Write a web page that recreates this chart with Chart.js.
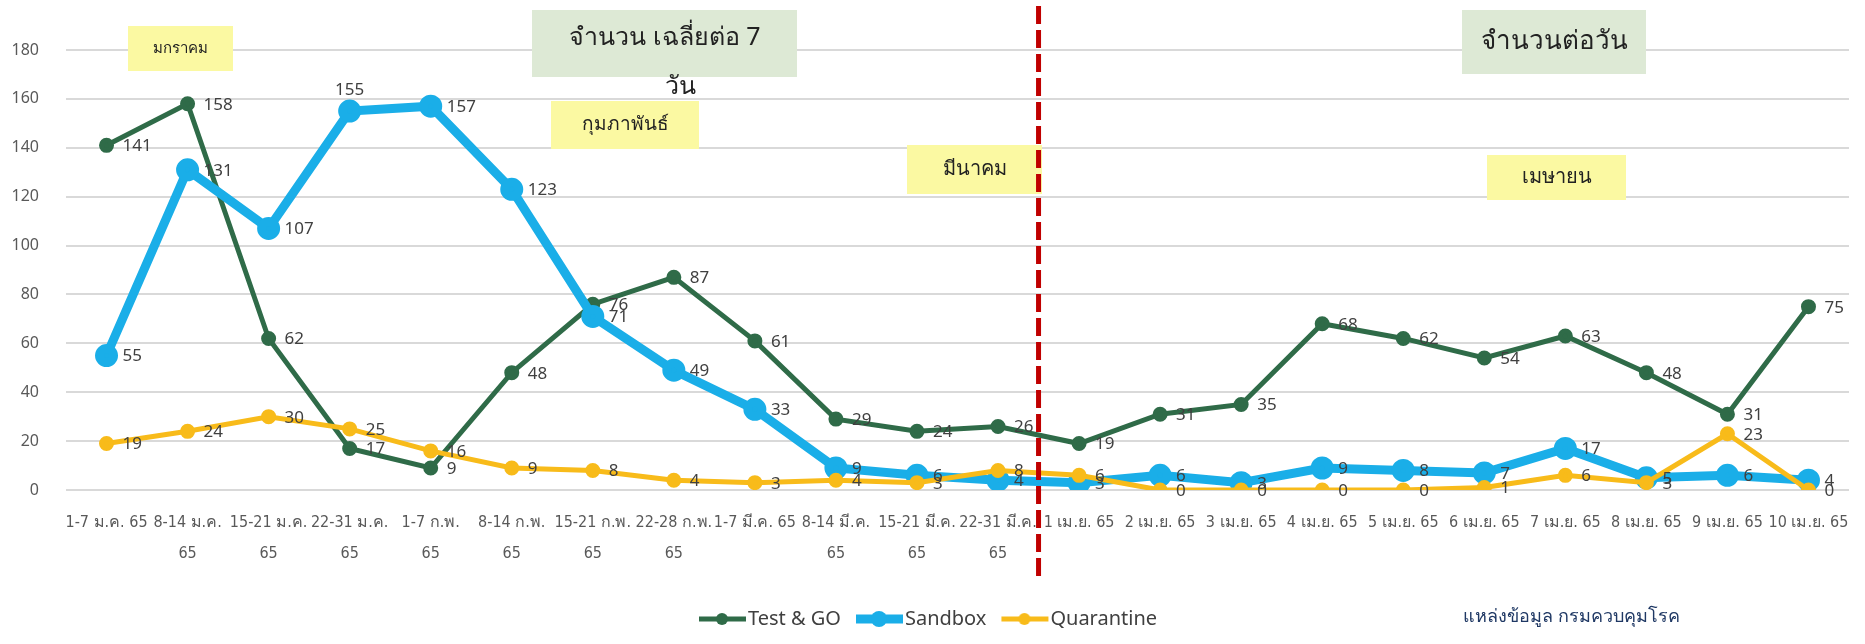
<!DOCTYPE html>
<html>
<head>
<meta charset="utf-8">
<script src="https://cdn.jsdelivr.net/npm/chart.js@4/dist/chart.umd.min.js"></script>
<style>
  html, body { margin: 0; padding: 0; background: #fff; }
  #wrap { width: 1865px; height: 644px; }
</style>
</head>
<body>
<div id="wrap"><canvas id="myChart"></canvas></div>
<script>
const categories = [
  "1-7 ม.ค. 65", ["8-14 ม.ค.", "65"], ["15-21 ม.ค.", "65"], ["22-31 ม.ค.", "65"],
  ["1-7 ก.พ.", "65"], ["8-14 ก.พ.", "65"], ["15-21 ก.พ.", "65"], ["22-28 ก.พ.", "65"],
  "1-7 มี.ค. 65", ["8-14 มี.ค.", "65"], ["15-21 มี.ค.", "65"], ["22-31 มี.ค.", "65"],
  "1 เม.ย. 65", "2 เม.ย. 65", "3 เม.ย. 65", "4 เม.ย. 65", "5 เม.ย. 65",
  "6 เม.ย. 65", "7 เม.ย. 65", "8 เม.ย. 65", "9 เม.ย. 65", "10 เม.ย. 65"
];
const testAndGo = [141, 158, 62, 17, 9, 48, 76, 87, 61, 29, 24, 26, 19, 31, 35, 68, 62, 54, 63, 48, 31, 75];
const sandbox = [55, 131, 107, 155, 157, 123, 71, 49, 33, 9, 6, 4, 3, 6, 3, 9, 8, 7, 17, 5, 6, 4];
const quarantine = [19, 24, 30, 25, 16, 9, 8, 4, 3, 4, 3, 8, 6, 0, 0, 0, 0, 1, 6, 3, 23, 0];
const yTicks = [0, 20, 40, 60, 80, 100, 120, 140, 160, 180];
const seriesNames = ["Test & GO", "Sandbox", "Quarantine"];

const THAI = "'Noto Sans', 'DejaVu Sans', sans-serif";
const NARROW = "'Liberation Sans Narrow', 'DejaVu Sans Condensed', 'Noto Sans', sans-serif";
const NUM = "'Noto Sans', 'DejaVu Sans', sans-serif";

// line + dot marker for the legend, like the Excel one
// (left part left empty so the items sit further apart)
function legendMarker(color, lw, r) {
  const c = document.createElement("canvas");
  c.width = 62; c.height = 20;
  const g = c.getContext("2d");
  g.strokeStyle = color; g.lineWidth = lw;
  g.beginPath(); g.moveTo(14, 10); g.lineTo(61, 10); g.stroke();
  g.fillStyle = color;
  g.beginPath(); g.arc(37, 10, r, 0, Math.PI * 2); g.fill();
  return c;
}

const valueLabels = {
  id: "valueLabels",
  afterDatasetsDraw(chart) {
    const ctx = chart.ctx;
    ctx.save();
    ctx.font = "17px " + NUM;
    ctx.fillStyle = "#404040";
    chart.data.datasets.forEach((ds, i) => {
      const meta = chart.getDatasetMeta(i);
      meta.data.forEach((pt, j) => {
        if (i === 1 && j === 3) {
          ctx.textAlign = "center"; ctx.textBaseline = "bottom";
          ctx.fillText(ds.data[j], pt.x, pt.y - 12);
        } else {
          ctx.textAlign = "left"; ctx.textBaseline = "middle";
          ctx.fillText(ds.data[j], pt.x + 16, pt.y + 1);
        }
      });
    });
    ctx.restore();
  }
};

const notes = {
  id: "notes",
  beforeDatasetsDraw(chart) {
    const ctx = chart.ctx;
    const box = (x0, y0, x1, y1, fill, text, size, tx, ty) => {
      ctx.fillStyle = fill;
      ctx.fillRect(x0, y0, x1 - x0, y1 - y0);
      ctx.fillStyle = "#222";
      ctx.font = size + "px " + THAI;
      ctx.textAlign = "center"; ctx.textBaseline = "middle";
      ctx.fillText(text, tx !== undefined ? tx : (x0 + x1) / 2, ty !== undefined ? ty : (y0 + y1) / 2);
    };
    ctx.save();
    box(128, 26, 233, 71, "#fbf9a2", "มกราคม", 15);
    box(532, 10, 797, 77, "#dde9d5", "จำนวน เฉลี่ยต่อ 7", 25, 665, 38);
    ctx.fillText("วัน", 680, 87);
    box(551, 101, 699, 149, "#fbf9a2", "กุมภาพันธ์", 19);
    box(907, 145, 1042, 194, "#fbf9a2", "มีนาคม", 20);
    box(1462, 10, 1646, 74, "#dde9d5", "จำนวนต่อวัน", 26);
    box(1487, 155, 1626, 200, "#fbf9a2", "เมษายน", 20);
    ctx.restore();
  },
  afterDraw(chart) {
    const ctx = chart.ctx;
    const xs = chart.scales.x;
    const xm = (xs.getPixelForValue(11) + xs.getPixelForValue(12)) / 2;
    ctx.save();
    ctx.strokeStyle = "#c00000";
    ctx.lineWidth = 5;
    ctx.setLineDash([18, 6]);
    ctx.beginPath(); ctx.moveTo(xm, 6); ctx.lineTo(xm, 578); ctx.stroke();
    ctx.setLineDash([]);
    ctx.fillStyle = "#1f3864";
    ctx.font = "18px " + THAI;
    ctx.textAlign = "left"; ctx.textBaseline = "middle";
    ctx.fillText("แหล่งข้อมูล กรมควบคุมโรค", 1463, 617);
    ctx.restore();
  }
};

const colors = ["#2f6b48", "#1aaee8", "#f8bb1a"];
const widths = [5, 9, 5];
const radii = [5, 7, 5];
const series = [testAndGo, sandbox, quarantine];
const markers = colors.map((c, i) => legendMarker(c, widths[i], radii[i] + 1));

new Chart(document.getElementById("myChart"), {
  type: "line",
  data: {
    labels: categories,
    datasets: series.map((d, i) => ({
      label: seriesNames[i],
      data: d,
      borderColor: colors[i],
      backgroundColor: colors[i],
      borderWidth: widths[i],
      pointRadius: radii[i],
      pointHoverRadius: radii[i],
      tension: 0,
      order: 3 - i
    }))
  },
  options: {
    responsive: true,
    maintainAspectRatio: false,
    animation: false,
    layout: { padding: { top: 50, right: 14, bottom: 5, left: 0 } },
    plugins: {
      tooltip: { enabled: false },
      legend: {
        position: "bottom",
        labels: {
          usePointStyle: true,
          pointStyleWidth: 44,
          padding: 10,
          color: "#404040",
          font: { size: 20, family: NUM },
          generateLabels(chart) {
            return chart.data.datasets.map((ds, i) => ({
              text: ds.label,
              pointStyle: markers[i],
              fillStyle: colors[i],
              strokeStyle: colors[i],
              lineWidth: 0,
              fontColor: "#404040",
              datasetIndex: i,
              hidden: false
            }));
          }
        }
      }
    },
    scales: {
      x: {
        offset: true,
        grid: { display: false },
        border: { display: false },
        afterFit(s) { s.height = 109; },
        ticks: {
          autoSkip: false,
          maxRotation: 0,
          minRotation: 0,
          padding: 9,
          color: "#595959",
          font: { size: 16, family: NARROW, lineHeight: 1.95 }
        }
      },
      y: {
        min: 0,
        max: 180,
        afterFit(s) { s.width = 66; },
        afterBuildTicks(s) { s.ticks = yTicks.map(v => ({ value: v })); },
        grid: { color: "#d9d9d9", lineWidth: 2, drawTicks: false },
        border: { display: false },
        ticks: {
          padding: 27,
          color: "#595959",
          font: { size: 16, family: NUM }
        }
      }
    }
  },
  plugins: [notes, valueLabels]
});
</script>
</body>
</html>
